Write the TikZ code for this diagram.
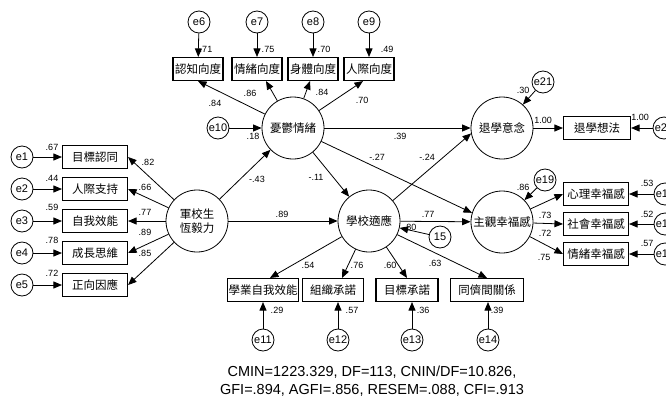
\documentclass[tikz,border=0pt]{standalone}
\usepackage{fontspec}
\setmainfont{Liberation Sans}
\newfontfamily\cjk{Noto Sans CJK TC}
\usetikzlibrary{arrows.meta}

\begin{document}
\begin{tikzpicture}[x=1pt,y=-1pt,
    lat/.style={circle,draw,line width=0.8pt,minimum size=62pt,inner sep=0pt,align=center,font=\cjk\fontsize{11.5}{14}\selectfont},
    err/.style={circle,draw,line width=0.8pt,minimum size=22pt,inner sep=0pt,font=\fontsize{11}{11}\selectfont},
    obs/.style={draw,line width=1.1pt,minimum height=23pt,inner sep=1pt,font=\cjk\fontsize{11.5}{12}\selectfont},
    path/.style={-{Triangle[length=8.5pt,width=7pt]},line width=0.8pt},
    coef/.style={inner sep=0pt,font=\fontsize{9}{9}\selectfont}]
    \clip (0,0) rectangle (666,397);

    % latent factors
    \node[lat] (dep) at (293,128) {憂鬱情緒};
    \node[lat] (gri) at (197,221) {軍校生\\恆毅力};
    \node[lat] (sch) at (369,221) {學校適應};
    \node[lat] (drop) at (502,128) {退學意念};
    \node[lat] (wel) at (502,222) {主觀幸福感};

    % indicators
    \node[obs,minimum width=50pt] (t1) at (198,69) {認知向度};
    \node[obs,minimum width=50pt] (t2) at (257,69) {情緒向度};
    \node[obs,minimum width=50pt] (t3) at (313,69) {身體向度};
    \node[obs,minimum width=50pt] (t4) at (369,69) {人際向度};
    \node[obs,minimum width=65pt] (l1) at (95,157) {目標認同};
    \node[obs,minimum width=65pt] (l2) at (95,189) {人際支持};
    \node[obs,minimum width=65pt] (l3) at (95,221) {自我效能};
    \node[obs,minimum width=65pt] (l4) at (95,253) {成長思維};
    \node[obs,minimum width=65pt] (l5) at (95,285) {正向因應};
    \node[obs,minimum width=71pt] (b1) at (263,290) {學業自我效能};
    \node[obs,minimum width=61pt] (b2) at (333,290) {組織承諾};
    \node[obs,minimum width=62pt] (b3) at (407,290) {目標承諾};
    \node[obs,minimum width=73pt] (b4) at (487,290) {同儕間關係};
    \node[obs,minimum width=67pt] (q1) at (597,128) {退學想法};
    \node[obs,minimum width=65pt] (r1) at (596,194) {心理幸福感};
    \node[obs,minimum width=65pt] (r2) at (596,224) {社會幸福感};
    \node[obs,minimum width=65pt] (r3) at (596,254) {情緒幸福感};

    % error terms
    \foreach \n/\x/\y in {e1/22/157,e2/22/189,e3/22/221,e4/22/253,e5/22/285,
        e6/199/22,e7/257/22,e8/313/22,e9/369/22,e10/218/128,
        e11/263/340,e12/338/340,e13/412/340,e14/488/340,
        e16/665/194,e17/665/224,e18/665/254,e19/545/180,e20/664/128,e21/543/82}
        \node[err] (\n) at (\x,\y) {\n};
    \node[err] (d15) at (440,237) {15};

    % measurement paths
    \draw[path] (e1) -- (l1);
    \draw[path] (e2) -- (l2);
    \draw[path] (e3) -- (l3);
    \draw[path] (e4) -- (l4);
    \draw[path] (e5) -- (l5);
    \draw[path] (e6) -- (t1);
    \draw[path] (e7) -- (t2);
    \draw[path] (e8) -- (t3);
    \draw[path] (e9) -- (t4);
    \draw[path] (e11) -- (e11 |- b1.south);
    \draw[path] (e12) -- (e12 |- b2.south);
    \draw[path] (e13) -- (e13 |- b3.south);
    \draw[path] (e14) -- (e14 |- b4.south);
    \draw[path] (e16) -- (r1);
    \draw[path] (e17) -- (r2);
    \draw[path] (e18) -- (r3);
    \draw[path] (e20) -- (q1);
    \draw[path] (gri) -- (l1.east);
    \draw[path] (gri) -- (l2.east);
    \draw[path] (gri) -- (l3.east);
    \draw[path] (gri) -- (l4.east);
    \draw[path] (gri) -- (l5.east);
    \draw[path] (dep) -- (t1.south);
    \draw[path] (dep) -- ([xshift=9pt]t2.south);
    \draw[path] (dep) -- ([xshift=-3pt]t3.south);
    \draw[path] (dep) -- ([xshift=-6pt]t4.south);
    \draw[path] (sch) -- ([xshift=7pt]b1.north);
    \draw[path] (sch) -- ([xshift=9pt]b2.north);
    \draw[path] (sch) -- (b3.north);
    \draw[path] (sch) -- (b4.north);
    \draw[path] (drop) -- (q1);
    \draw[path] (wel) -- (r1.west);
    \draw[path] (wel) -- (r2.west);
    \draw[path] (wel) -- (r3.west);

    % structural paths
    \draw[path] (e10) -- (dep);
    \draw[path] (gri) -- (dep);
    \draw[path] (gri) -- (sch);
    \draw[path] (dep) -- (sch);
    \draw[path] (dep) -- (drop);
    \draw[path] (dep) -- (wel.163);
    \draw[path] (sch) -- (drop.190);
    \draw[path] (sch) -- (wel);
    \draw[path] (d15) -- (sch);
    \draw[path] (e19) -- (wel);
    \draw[path] (e21) -- (drop);

    % estimates
    \foreach \x/\y/\t [count=\i] in {52/147/.67,52/178/.44,52/207/.59,52/240/.78,52/273/.72,
        148/162/.82,145/187/.66,145/212/.77,145/232/.89,145/253/.85,
        206/49/.71,268/49/.75,324/49/.70,387/49/.49,
        215/103/.84,250/93/.86,322/92/.84,362/100/.70,
        253/136/.18,257/179/-.43,400/136/.39,377/157/-.27,316/177/-.11,427/157/-.24,
        282/214/.89,428/214/.77,410/227/.80,
        308/265/.54,357/265/.76,390/265/.60,435/263/.63,
        277/310/.29,352/310/.57,423/310/.36,497/310/.39,
        543/120/1.00,640/117/1.00,523/90/.30,523/187/.86,
        545/215/.73,545/233/.72,544/257/.75,647/183/.53,647/214/.52,647/243/.57}
        \node[coef] (k\i) at (\x,\y) {\t};

    % fit indices
    \node[align=center,inner sep=0pt,font=\fontsize{14.5}{18}\selectfont] (fit) at (372,381)
        {CMIN=1223.329, DF=113, CNIN/DF=10.826,\\GFI=.894, AGFI=.856, RESEM=.088, CFI=.913};
\end{tikzpicture}
\end{document}
